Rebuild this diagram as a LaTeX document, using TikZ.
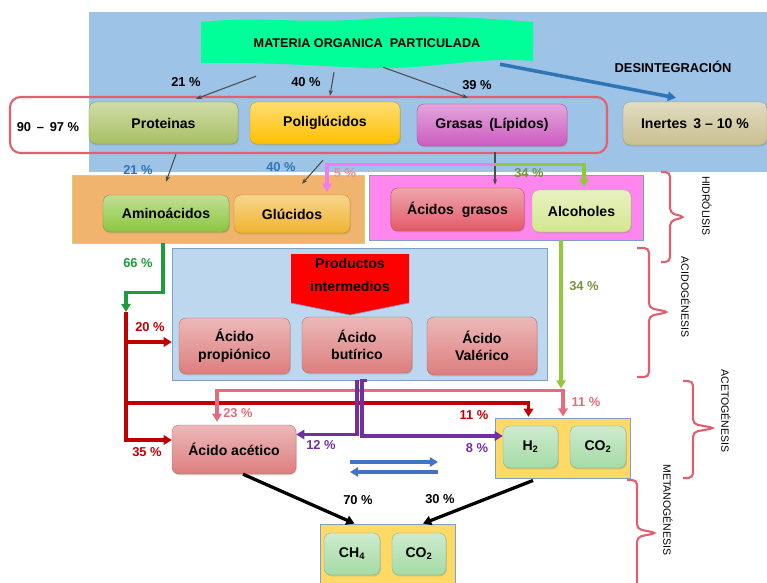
\documentclass[tikz,border=0pt]{standalone}
\usepackage{fontspec}
\setmainfont{Liberation Sans}
\usepackage{tikz}
\usetikzlibrary{positioning, arrows.meta, calc, shadows}
\usepackage{xcolor}

\definecolor{bgblue}{HTML}{9DC3E6}
\definecolor{titlegreen}{HTML}{00FF99}
\definecolor{protgreen}{HTML}{A8BF62}
\definecolor{poligold}{HTML}{FFC000}
\definecolor{grasmag}{HTML}{CC5CC0}
\definecolor{inerttan}{HTML}{C9BF8F}
\definecolor{aminogreen}{HTML}{8CC63F}
\definecolor{glucgold}{HTML}{F0B32E}
\definecolor{acgrred}{HTML}{E25A68}
\definecolor{alcyellow}{HTML}{D4E68F}
\definecolor{acidrose}{HTML}{DD7E7E}
\definecolor{gasgreen}{HTML}{A4DBA5}
\definecolor{grporange}{HTML}{F0B46E}
\definecolor{grppink}{HTML}{FF86EC}
\definecolor{grpblue}{HTML}{BDD7EE}
\definecolor{grpyellow}{HTML}{FFD966}
\definecolor{edgeblue}{HTML}{7F9FC8}
\definecolor{edgelime}{HTML}{C8D66A}
\definecolor{darkred}{HTML}{C00000}
\definecolor{linepink}{HTML}{E46C7C}
\definecolor{violetline}{HTML}{7030A0}
\definecolor{limeline}{HTML}{92C83E}
\definecolor{magline}{HTML}{F07CF0}
\definecolor{greenline}{HTML}{1E9C3C}
\definecolor{olivetext}{HTML}{76923C}
\definecolor{bluetext}{HTML}{2E75B6}
\definecolor{softpink}{HTML}{F08A96}
\definecolor{eqblue}{HTML}{4472C4}
\definecolor{bracepink}{HTML}{E06070}

\tikzset{
    pill/.style={
        rounded corners=6pt,
        top color=#1!55!white,
        middle color=#1,
        bottom color=#1,
        draw=#1!80!black,
        line width=0.3pt,
        drop shadow={opacity=0.3, shadow xshift=0.8pt, shadow yshift=-1.2pt},
        font=\bfseries\fontsize{12}{15}\selectfont,
        align=center,
        inner sep=1pt
    },
    grpbox/.style 2 args={
        fill=#1,
        draw=#2,
        line width=0.8pt,
        inner sep=0pt
    },
    pct/.style={
        font=\bfseries\fontsize{11}{13}\selectfont,
        text=#1
    },
    thinarrow/.style={
        draw=gray!60!black,
        line width=0.9pt,
        -{Stealth[length=5pt]}
    },
    flow/.style={
        draw=#1,
        line width=2.8pt,
        -{Triangle[length=7pt,width=8pt]}
    },
    phase/.style={
        draw=bracepink,
        line width=1.8pt,
        rounded corners=4pt
    },
    phaselabel/.style={
        rotate=-90,
        font=\fontsize{9}{10}\selectfont
    }
}

\begin{document}
\begin{tikzpicture}[x=0.03cm, y=-0.03cm]

  \useasboundingbox (0,0) rectangle (767,582);

  % backgrounds and groups
  \fill[bgblue] (89,12) rectangle (767,172);
  \node[grpbox={grporange}{edgelime}, minimum width=8.76cm, minimum height=2.04cm] (gAmino) at (218,209) {};
  \node[grpbox={grppink}{edgeblue}, minimum width=8.22cm, minimum height=1.95cm] (gGras) at (506,207.5) {};
  \node[grpbox={grpblue}{edgeblue}, minimum width=11.25cm, minimum height=3.96cm] (gInter) at (359.5,314) {};
  \node[grpbox={grpyellow}{edgeblue}, minimum width=4.05cm, minimum height=1.8cm] (gH) at (562.5,448) {};
  \node[grpbox={grpyellow}{edgeblue}, minimum width=4.05cm, minimum height=2.28cm] (gGas) at (387.5,562) {};
  \node[draw=bracepink, line width=1.8pt, rounded corners=9pt, minimum width=17.91cm, minimum height=1.68cm] (gMacro) at (308.5,125) {};

  % title banner
  \fill[titlegreen] (201,22) .. controls (260,16) and (300,24) .. (367,19)
    .. controls (430,14) and (480,18) .. (533,22) -- (533,61)
    .. controls (480,56) and (430,70) .. (367,68)
    .. controls (300,65) and (260,62) .. (201,63) -- cycle;
  \node[font=\bfseries\fontsize{10.8}{12}\selectfont, minimum width=10.05cm, minimum height=1.5cm] (title) at (367,43) {MATERIA ORGANICA \ PARTICULADA};

  % productos intermedios
  \fill[red] (291,254) -- (409,254) -- (409,303) -- (350,315) -- (291,303) -- cycle;
  \draw[edgeblue, line width=0.6pt] (291,303) -- (350,315) -- (409,303);
  \node[font=\bfseries\fontsize{12}{19.5}\selectfont, align=center] (prod) at (350,275) {Productos\\intermedios};

  % boxes
  \node[pill=protgreen, minimum width=4.47cm, minimum height=1.26cm] (prot) at (163.5,123) {Proteinas};
  \node[pill=poligold, minimum width=4.5cm, minimum height=1.26cm] (poli) at (325,123) {Poliglúcidos};
  \node[pill=grasmag, minimum width=4.5cm, minimum height=1.26cm] (gras) at (492,125) {Grasas \,(Lípidos)};
  \node[pill=inerttan, minimum width=4.32cm, minimum height=1.29cm] (inert) at (695,123.5) {Inertes \,3 – 10 \%};
  \node[pill=aminogreen, minimum width=3.78cm, minimum height=1.11cm] (amino) at (166,213.5) {Aminoácidos};
  \node[pill=glucgold, minimum width=3.48cm, minimum height=1.14cm] (gluc) at (292,214) {Glúcidos};
  \node[pill=acgrred, minimum width=4.0cm, minimum height=1.29cm] (acgr) at (457.5,209.5) {Ácidos \ grasos};
  \node[pill=alcyellow, minimum width=2.97cm, minimum height=1.26cm] (alc) at (581.5,211) {Alcoholes};
  \node[pill=acidrose, minimum width=3.33cm, minimum height=1.68cm] (prop) at (234.5,346) {Ácido\\propiónico};
  \node[pill=acidrose, minimum width=3.3cm, minimum height=1.68cm] (but) at (357,345) {Ácido\\butírico};
  \node[pill=acidrose, minimum width=3.3cm, minimum height=1.74cm] (val) at (482,346) {Ácido\\Valérico};
  \node[pill=acidrose, minimum width=3.72cm, minimum height=1.47cm] (acet) at (234,449.5) {Ácido acético};
  \node[pill=gasgreen, minimum width=1.65cm, minimum height=1.26cm] (h2) at (530.5,447) {H\textsubscript{2}};
  \node[pill=gasgreen, minimum width=1.68cm, minimum height=1.26cm] (co2a) at (598,447) {CO\textsubscript{2}};
  \node[pill=gasgreen, minimum width=1.68cm, minimum height=1.26cm] (ch4) at (352,554) {CH\textsubscript{4}};
  \node[pill=gasgreen, minimum width=1.62cm, minimum height=1.26cm] (co2b) at (419,554) {CO\textsubscript{2}};

  % desintegracion
  \draw[thinarrow] ($(title.south)+(-111,8)$) -- ($(prot.north)+(32.5,-3)$);
  \draw[thinarrow] ($(title.south)+(-33,4)$) -- ($(poli.north)+(5,-6)$);
  \draw[thinarrow] ($(title.south)+(16,-1)$) -- ($(gras.north)+(-24,-6)$);
  \draw[flow=bluetext, line width=3pt] ($(title.south)+(133,-4)$) -- ($(inert.north)+(-19,-4)$);
  \node[font=\bfseries\fontsize{11}{13}\selectfont] (desint) at (673,67) {DESINTEGRACIÓN};
  \node[pct=black] (p21a) at (186,82) {21 \%};
  \node[pct=black] (p40a) at (306,82) {40 \%};
  \node[pct=black] (p39) at (477,85) {39 \%};
  \node[font=\bfseries\fontsize{11}{13}\selectfont] (p90) at (48,127) {90 \,–\, 97 \%};

  % hidrolisis
  \draw[thinarrow] ($(prot.south)+(12.5,10)$) -- ($(amino.north)+(0,-13)$);
  \draw[thinarrow] ($(poli.south)+(-2,16)$) -- ($(gluc.north)+(10,-11)$);
  \draw[thinarrow] ($(gras.south)+(3,6)$) -- ($(acgr.north)+(37.5,-3)$);
  \draw[flow=magline] ($(gras.south)+(3,18)$) -| ($(gluc.north)+(35,-3)$);
  \draw[flow=limeline] ($(gras.south)+(3,18)$) -| ($(alc.north)+(2.5,-3)$);
  \node[pct=bluetext] (p21b) at (138,170) {21 \%};
  \node[pct=bluetext] (p40b) at (281,167) {40 \%};
  \node[pct=softpink] (p5) at (345,173) {5 \%};
  \node[pct=olivetext] (p34a) at (529,173) {34 \%};

  % acidogenesis
  \coordinate (jr) at (126,312);
  \draw[flow=greenline] ($(amino.south)+(-3,11)$) -- ++(0,49) -| (jr);
  \draw[flow=darkred] (jr) |- ($(acet.west)+(0,-9.5)$);
  \draw[flow=darkred] ($(jr)+(0,30)$) -- ($(prop.west)+(-7,-4)$);
  \draw[flow=darkred] ($(jr)+(0,91)$) -| ($(h2.north)+(-2,-9)$);
  \draw[flow=limeline] ($(alc.south)+(-20.5,8)$) -- ($(gH.north)+(-1.5,-29)$);
  \draw[flow=linepink, {Triangle[length=7pt,width=8pt]}-{Triangle[length=7pt,width=8pt]}]
    ($(acet.north)+(-17,-3)$) |- ($(gH.north)+(0.5,-27)$) -- ($(gH.north)+(0.5,-1)$);
  \node[pct=greenline] (p66) at (138,263) {66 \%};
  \node[pct=darkred] (p20) at (150,327) {20 \%};
  \node[pct=olivetext] (p34b) at (584,286) {34 \%};

  % acetogenesis
  \draw[flow=violetline] ($(but.south)+(0,7)$) |- ($(acet.east)+(0,-15)$);
  \draw[flow=violetline] ($(but.south)+(10,7)$) -- ++(-5,0) |- ($(h2.west)+(0,-11)$);
  \coordinate (eqL) at (350,462);
  \coordinate (eqR) at (438,462);
  \draw[flow=eqblue] (eqL) -- (eqR);
  \draw[flow=eqblue] ($(eqR)+(0,10)$) -- ($(eqL)+(0,10)$);
  \node[pct=linepink] (p23) at (238,413) {23 \%};
  \node[pct=linepink] (p11a) at (586,402) {11 \%};
  \node[pct=darkred] (p11b) at (474,415) {11 \%};
  \node[pct=darkred] (p35) at (147,452) {35 \%};
  \node[pct=violetline] (p12) at (321,445) {12 \%};
  \node[pct=violetline] (p8) at (477,448) {8 \%};

  % metanogenesis
  \draw[flow=black] ($(acet.south)+(9,0)$) -- ($(gGas.north)+(-33,0)$);
  \draw[flow=black] ($(gH.south)+(-29.5,2)$) -- ($(gGas.north)+(35.5,0)$);
  \node[pct=black] (p70) at (358,500) {70 \%};
  \node[pct=black] (p30) at (440,499) {30 \%};

  % fases
  \foreach \xl/\xv/\xt/\yt/\ym/\yb in {
      661/670/685/172/217/262,
      637/649/669/248/312/377,
      683/693/715/381/428/478,
      627/637/657/480/533/640}
    {
      \draw[phase] (\xl,\yt) -- (\xv,\yt) -- (\xv,\ym-4) -- (\xt,\ym) -- (\xv,\ym+4) -- (\xv,\yb) -- (\xl,\yb);
    }

  \foreach \n/\x/\y/\txt in {
      hid/707/206/HIDRÓLISIS,
      aci/686/297/ACIDOGÉNESIS,
      ace/726/411/ACETOGÉNESIS,
      met/668/510/METANOGÉNESIS}
    {
      \node[phaselabel] (ph-\n) at (\x,\y) {\txt};
    }

\end{tikzpicture}
\end{document}
